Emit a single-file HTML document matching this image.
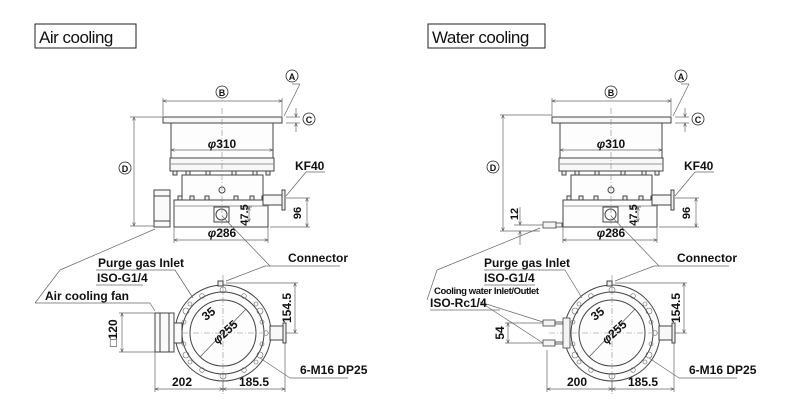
<!DOCTYPE html>
<html><head><meta charset="utf-8"><style>
html,body{margin:0;padding:0;background:#fff;width:800px;height:420px;overflow:hidden}
svg{display:block}
text{font-family:"Liberation Sans",Arial,sans-serif;font-weight:bold;fill:#111}
</style></head><body>
<svg width="800" height="420" viewBox="0 0 800 420" xmlns="http://www.w3.org/2000/svg">
<defs>
<marker id="ar" markerWidth="6" markerHeight="6" refX="5" refY="3" orient="auto-start-reverse"><path d="M0,1 L5,3 L0,5" fill="none" stroke="#555" stroke-width="0.8"/></marker>
<g id="pump" stroke="#444" stroke-width="1" fill="none">
  <rect x="163" y="117" width="119" height="6" fill="#f8f8f8"/>
  <rect x="171" y="123" width="102" height="35" fill="#fdfdfd"/>
  <rect x="170" y="158" width="104" height="13" fill="#f8f8f8"/>
  <line x1="170" y1="164" x2="274" y2="164" stroke="#999"/>
  <g fill="#eee"><rect x="173" y="171" width="4" height="4"/><rect x="186" y="171" width="4" height="4"/><rect x="206" y="171" width="4" height="4"/><rect x="232" y="171" width="4" height="4"/><rect x="253" y="171" width="4" height="4"/><rect x="266" y="171" width="4" height="4"/></g>
  <rect x="182" y="175" width="81" height="25" fill="#fdfdfd"/>
  <circle cx="222" cy="190" r="3"/>
  <g fill="#eee"><rect x="178" y="196" width="4" height="4"/><rect x="190" y="196" width="4" height="4"/><rect x="205" y="196" width="4" height="4"/><rect x="234" y="196" width="4" height="4"/><rect x="250" y="196" width="4" height="4"/><rect x="262" y="196" width="4" height="4"/></g>
  <rect x="174" y="200" width="94" height="27" fill="#fdfdfd"/>
  <line x1="174" y1="206" x2="268" y2="206" stroke="#999"/>
  <rect x="214" y="207" width="15" height="15"/>
  <circle cx="221.5" cy="214.5" r="5.5"/>
  <rect x="263" y="195" width="20" height="10" fill="#f8f8f8"/>
  <rect x="282" y="190" width="3" height="20" fill="#eee"/>
  <line x1="222" y1="108" x2="222" y2="240" stroke="#888" stroke-width="0.6" stroke-dasharray="6,2,1,2"/>
  <g stroke="#666" stroke-width="0.7">
  <line x1="163" y1="101" x2="282" y2="101" marker-start="url(#ar)" marker-end="url(#ar)"/>
  <line x1="163" y1="98" x2="163" y2="116"/><line x1="282" y1="98" x2="282" y2="116"/>
  <line x1="171" y1="150" x2="273" y2="150" marker-start="url(#ar)" marker-end="url(#ar)"/>
  <line x1="174" y1="240" x2="268" y2="240" marker-start="url(#ar)" marker-end="url(#ar)"/>
  <line x1="174" y1="227" x2="174" y2="243"/><line x1="268" y1="227" x2="268" y2="243"/>
  <line x1="286" y1="117" x2="300" y2="117"/><line x1="286" y1="123" x2="300" y2="123"/>
  <line x1="296" y1="108" x2="296" y2="117" marker-end="url(#ar)"/><line x1="296" y1="132" x2="296" y2="123" marker-end="url(#ar)"/>
  <line x1="286" y1="198" x2="310" y2="198"/><line x1="270" y1="227" x2="310" y2="227"/>
  <line x1="307" y1="198" x2="307" y2="227" marker-start="url(#ar)" marker-end="url(#ar)"/>
  <line x1="240" y1="207" x2="252" y2="207"/>
  <line x1="249" y1="207" x2="249" y2="222" marker-start="url(#ar)" marker-end="url(#ar)"/>
  <line x1="284" y1="116" x2="300" y2="84"/><line x1="300" y1="84" x2="292" y2="84"/>
  <line x1="286" y1="196" x2="306" y2="172"/><line x1="306" y1="172" x2="325" y2="172"/>
  </g>
  <text x="222" y="148" font-size="12" text-anchor="middle" stroke="none"><tspan font-style="italic">φ</tspan>310</text>
  <text x="222" y="237" font-size="12" text-anchor="middle" stroke="none"><tspan font-style="italic">φ</tspan>286</text>
  <text x="0" y="0" font-size="11" text-anchor="middle" stroke="none" transform="translate(248,215) rotate(-90)">47.5</text>
  <text x="0" y="0" font-size="11" text-anchor="middle" stroke="none" transform="translate(301,213) rotate(-90)">96</text>
  <text x="295" y="170" font-size="12" stroke="none">KF40</text>
  <g stroke="#222" stroke-width="0.8" fill="#fff"><circle cx="222" cy="92" r="6"/><circle cx="292" cy="76" r="6"/><circle cx="309" cy="119" r="6"/></g>
  <text x="222" y="96" font-size="9" text-anchor="middle" stroke="none">B</text>
  <text x="292" y="80" font-size="9" text-anchor="middle" stroke="none">A</text>
  <text x="309" y="123" font-size="9" text-anchor="middle" stroke="none">C</text>
  <circle cx="223" cy="333" r="48" fill="#fdfdfd"/>
  <circle cx="223" cy="333" r="41"/>
  <circle cx="223" cy="333" r="33"/>
  <g stroke="#666" stroke-width="0.6">
  <circle cx="223" cy="290" r="3"/><circle cx="223" cy="376" r="3"/><circle cx="260" cy="311" r="3"/><circle cx="260" cy="355" r="3"/><circle cx="186" cy="311" r="3"/><circle cx="186" cy="355" r="3"/>
  <circle cx="244" cy="296" r="2.3"/><circle cx="202" cy="296" r="2.3"/><circle cx="244" cy="370" r="2.3"/><circle cx="202" cy="370" r="2.3"/><circle cx="266" cy="333" r="2.3"/><circle cx="180" cy="333" r="2.3"/>
  <circle cx="256" cy="304" r="2"/><circle cx="256" cy="362" r="2"/><circle cx="190" cy="362" r="2"/><circle cx="190" cy="304" r="2"/>
  <circle cx="262" cy="322" r="2"/><circle cx="262" cy="344" r="2"/><circle cx="184" cy="344" r="2"/><circle cx="184" cy="322" r="2"/>
  </g>
  <line x1="160" y1="333" x2="290" y2="333" stroke="#888" stroke-width="0.6" stroke-dasharray="6,2,1,2"/>
  <line x1="223" y1="275" x2="223" y2="395" stroke="#888" stroke-width="0.6" stroke-dasharray="6,2,1,2"/>
  <line x1="200" y1="357" x2="246" y2="309" stroke="#555" stroke-width="0.7"/>
  <rect x="270" y="326" width="14" height="14" fill="#f8f8f8"/><rect x="283" y="323" width="3" height="20" fill="#eee"/>
  <rect x="218" y="281" width="5" height="5" fill="#eee"/>
  <g stroke="#666" stroke-width="0.7">
  <line x1="226" y1="283" x2="298" y2="283"/><line x1="286" y1="333" x2="298" y2="333"/>
  <line x1="295" y1="283" x2="295" y2="333" marker-start="url(#ar)" marker-end="url(#ar)"/>
  <line x1="223" y1="389" x2="285" y2="389" marker-start="url(#ar)" marker-end="url(#ar)"/>
  <line x1="285" y1="343" x2="285" y2="392"/><line x1="223" y1="380" x2="223" y2="392"/>
  <line x1="260" y1="358" x2="290" y2="378"/><line x1="290" y1="378" x2="348" y2="378"/>
  <line x1="226" y1="281" x2="265" y2="266"/><line x1="265" y1="266" x2="340" y2="266"/>
  <line x1="222" y1="216" x2="270" y2="266"/>
  </g>
  <text x="0" y="0" font-size="12" text-anchor="middle" stroke="none" transform="translate(291,308) rotate(-90)">154.5</text>
  <text x="254" y="386" font-size="12" text-anchor="middle" stroke="none">185.5</text>
  <text x="288" y="262" font-size="12" stroke="none">Connector</text>
  <text x="300" y="374" font-size="12" stroke="none">6-M16 DP25</text>
  <text x="0" y="0" font-size="12" text-anchor="middle" stroke="none" transform="translate(211,317) rotate(-38)">35</text>
  <text x="0" y="0" font-size="12" text-anchor="middle" stroke="none" transform="translate(228,335) rotate(-42)"><tspan font-style="italic">φ</tspan>255</text>
</g>
</defs>

<rect x="35" y="24" width="101" height="24" fill="#fff" stroke="#222" stroke-width="1"/>
<text x="39" y="43" font-size="17" style="font-weight:normal;letter-spacing:-0.5px">Air cooling</text>
<rect x="428" y="24" width="117" height="24" fill="#fff" stroke="#222" stroke-width="1"/>
<text x="432" y="43" font-size="17" style="font-weight:normal;letter-spacing:-0.5px">Water cooling</text>

<use href="#pump"/>
<use href="#pump" transform="translate(389,0)"/>

<g stroke="#444" stroke-width="1" fill="#fafafa">
 <rect x="154" y="190" width="16" height="37"/>
 <line x1="154" y1="196" x2="170" y2="196"/><line x1="154" y1="221" x2="170" y2="221"/>
 <rect x="155" y="313" width="19" height="39"/>
 <line x1="160" y1="313" x2="160" y2="352"/><line x1="169" y1="313" x2="169" y2="352"/>
 <rect x="174" y="323" width="8" height="20"/>
</g>
<g stroke="#666" stroke-width="0.7" fill="none">
 <line x1="134" y1="117" x2="134" y2="226" marker-start="url(#ar)" marker-end="url(#ar)"/>
 <line x1="130" y1="117" x2="163" y2="117"/><line x1="130" y1="226" x2="154" y2="226"/>
 <line x1="155" y1="229" x2="60" y2="270"/><line x1="60" y1="270" x2="35" y2="303"/><line x1="35" y1="303" x2="150" y2="303"/><line x1="150" y1="303" x2="155" y2="311"/>
 <line x1="96" y1="285" x2="143" y2="285"/><line x1="175" y1="270" x2="193" y2="298"/><line x1="96" y1="270" x2="175" y2="270"/>
 <line x1="119" y1="313" x2="155" y2="313"/><line x1="119" y1="352" x2="155" y2="352"/>
 <line x1="122" y1="313" x2="122" y2="352" marker-start="url(#ar)" marker-end="url(#ar)"/>
 <line x1="155" y1="389" x2="223" y2="389" marker-start="url(#ar)" marker-end="url(#ar)"/>
 <line x1="155" y1="352" x2="155" y2="392"/>
</g>
<circle cx="125" cy="168" r="6" fill="#fff" stroke="#222" stroke-width="0.8"/><text x="125" y="172" font-size="9" text-anchor="middle">D</text>
<text x="98" y="267" font-size="12">Purge gas Inlet</text>
<text x="97" y="282" font-size="12">ISO-G1/4</text>
<text x="45" y="300" font-size="12">Air cooling fan</text>
<text x="0" y="0" font-size="12" text-anchor="middle" transform="translate(117,333) rotate(-90)">□120</text>
<text x="182" y="386" font-size="12" text-anchor="middle">202</text>

<g stroke="#444" stroke-width="0.8" fill="#f4f4f4">
 <rect x="543" y="222" width="13" height="6"/><rect x="556" y="223" width="6" height="4"/>
 <rect x="543" y="320" width="12" height="6"/><rect x="543" y="340" width="12" height="6"/>
 <rect x="555" y="322" width="8" height="2"/><rect x="555" y="342" width="8" height="2"/>
 <rect x="563" y="318" width="7" height="30"/>
</g>
<g stroke="#666" stroke-width="0.7" fill="none">
 <line x1="503" y1="115" x2="503" y2="231" marker-start="url(#ar)" marker-end="url(#ar)"/>
 <line x1="500" y1="115" x2="552" y2="115"/><line x1="500" y1="231" x2="540" y2="231"/>
 <line x1="520" y1="207" x2="520" y2="225" marker-end="url(#ar)"/><line x1="520" y1="245" x2="520" y2="231" marker-end="url(#ar)"/>
 <line x1="514" y1="225" x2="543" y2="225"/>
 <line x1="540" y1="228" x2="437" y2="270"/><line x1="437" y1="270" x2="427" y2="300"/>
 <line x1="430" y1="310" x2="500" y2="310"/>
 <line x1="480" y1="302" x2="543" y2="322"/><line x1="480" y1="302" x2="543" y2="343"/>
 <line x1="484" y1="285" x2="535" y2="285"/><line x1="484" y1="270" x2="565" y2="270"/><line x1="565" y1="270" x2="582" y2="298"/>
 <line x1="505" y1="323" x2="543" y2="323"/><line x1="505" y1="343" x2="543" y2="343"/>
 <line x1="508" y1="323" x2="508" y2="343" marker-start="url(#ar)" marker-end="url(#ar)"/>
 <line x1="547" y1="389" x2="612" y2="389" marker-start="url(#ar)" marker-end="url(#ar)"/>
 <line x1="547" y1="350" x2="547" y2="392"/>
</g>
<circle cx="493" cy="167" r="6" fill="#fff" stroke="#222" stroke-width="0.8"/><text x="493" y="171" font-size="9" text-anchor="middle">D</text>
<text x="0" y="0" font-size="11" text-anchor="middle" transform="translate(518,214) rotate(-90)">12</text>
<text x="484" y="267" font-size="12">Purge gas Inlet</text>
<text x="484" y="282" font-size="12">ISO-G1/4</text>
<text x="434" y="294" font-size="9.5" style="letter-spacing:-0.4px">Cooling water Inlet/Outlet</text>
<text x="430" y="307" font-size="12">ISO-Rc1/4</text>
<text x="0" y="0" font-size="12" text-anchor="middle" transform="translate(504,333) rotate(-90)">54</text>
<text x="577" y="386" font-size="12" text-anchor="middle">200</text>
</svg>
</body></html>
